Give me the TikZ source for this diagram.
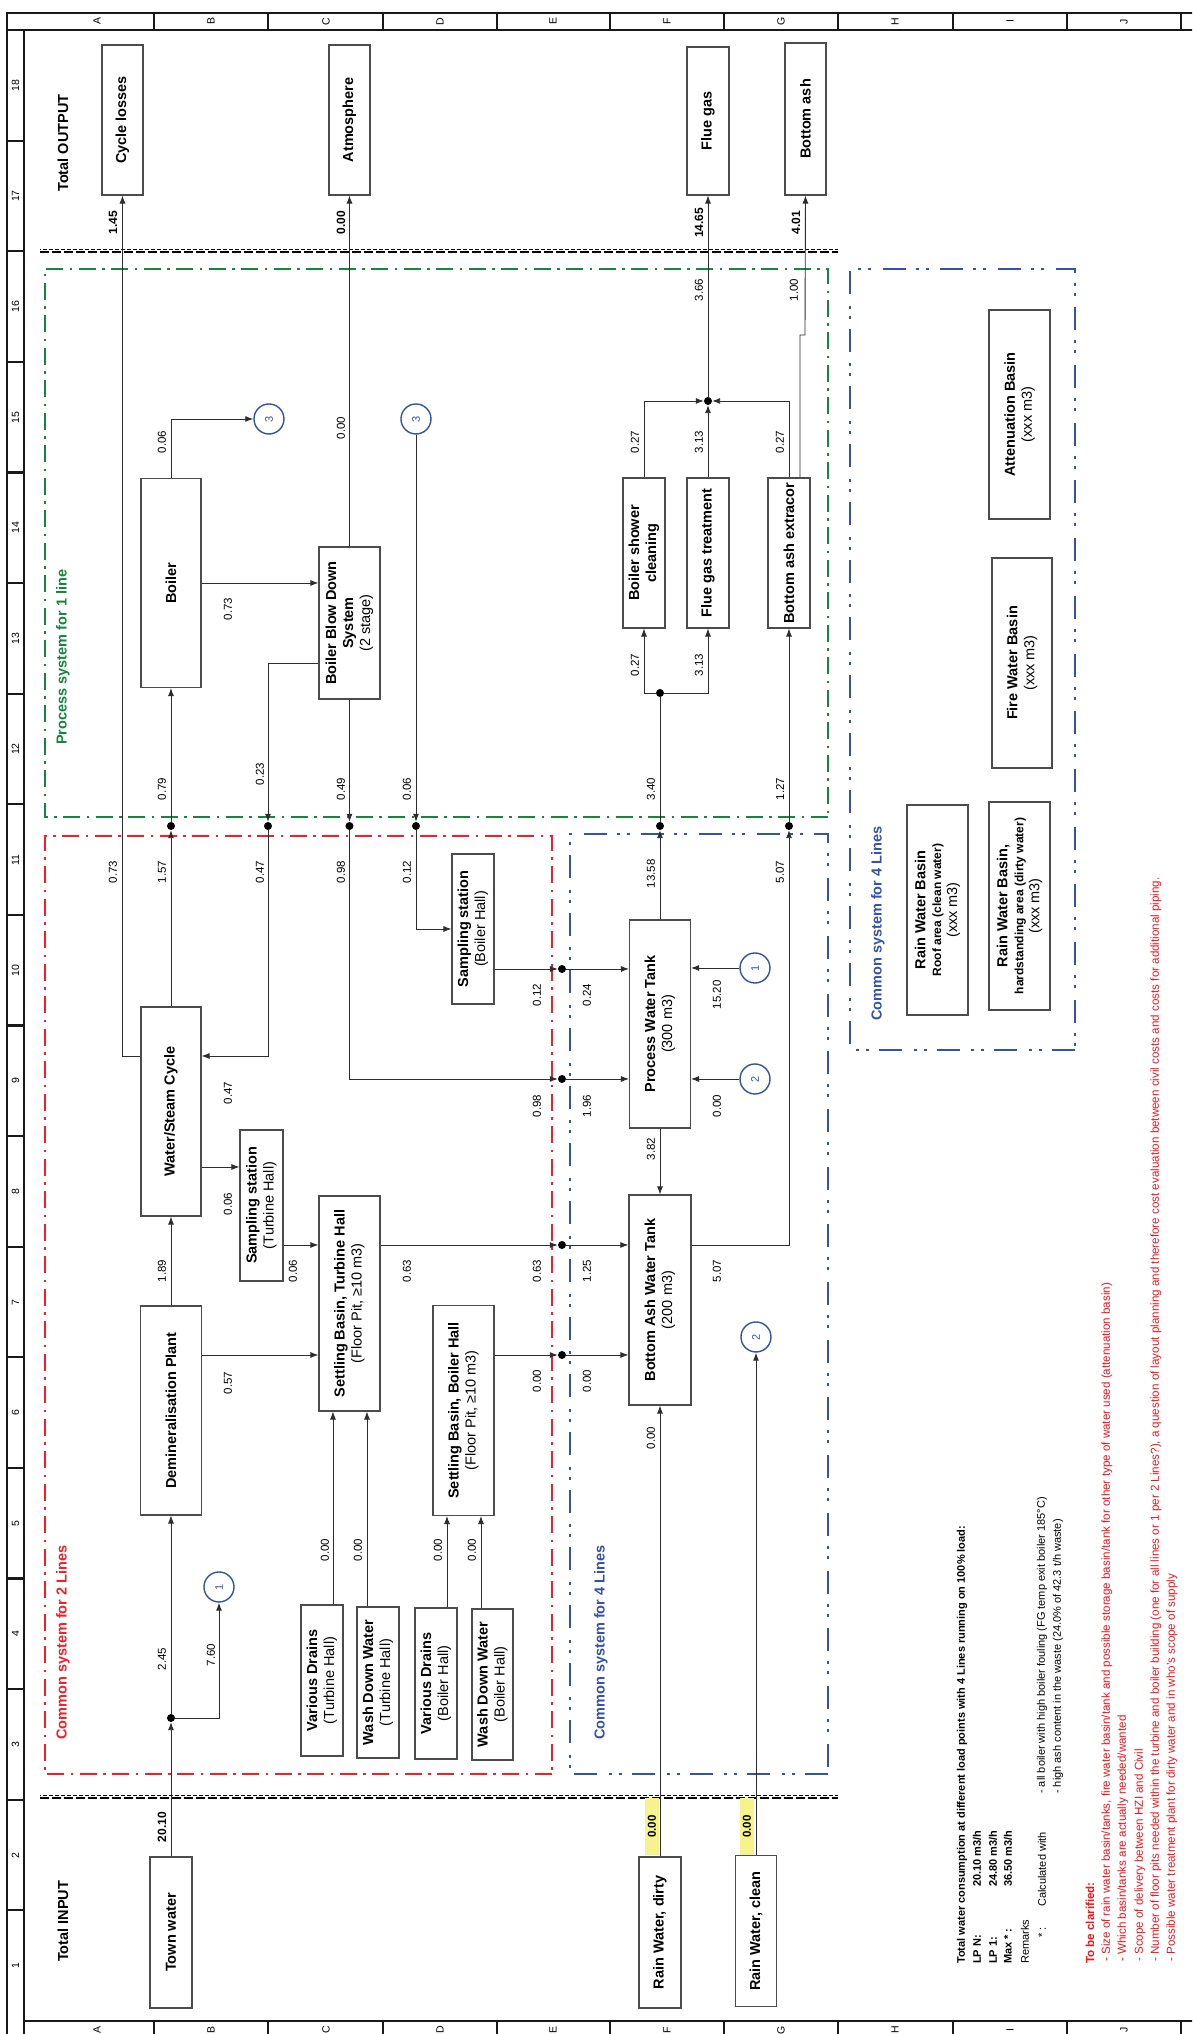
\documentclass[tikz,border=0pt]{standalone}
\usepackage{fontspec}
\setmainfont{Liberation Sans}
\usetikzlibrary{arrows.meta}
\newcommand\myfs[2]{\fontsize{#1}{#2}\selectfont}
\definecolor{cgreen}{RGB}{20,135,60}
\definecolor{cred}{RGB}{245,30,40}
\definecolor{cblue}{RGB}{52,82,168}
\definecolor{hl}{RGB}{246,242,140}
\definecolor{lin}{RGB}{45,45,45}
\definecolor{notered}{RGB}{240,20,30}
\tikzset{
 frm/.style={line width=2.2pt, draw=black!90},
 frmtxt/.style={inner sep=0pt, font=\myfs{10.5}{12}},
 box/.style={draw=lin!85, line width=1.1pt, fill=white, align=center, inner sep=0pt, font=\myfs{14.5}{17}},
 sz/.style 2 args={minimum width=#1pt, minimum height=#2pt},
 flow/.style={line width=0.9pt, draw=lin},
 arr/.style={flow, -{Latex[length=8pt,width=6pt]}},
 jdot/.style={circle, fill=black, inner sep=0pt, minimum size=8pt},
 num/.style={inner sep=0pt, font=\myfs{11.5}{13}},
 numb/.style={inner sep=0pt, font=\myfs{12}{14}\bfseries},
 circ/.style={circle, draw=cblue, line width=1.4pt, fill=white, minimum size=30pt, inner sep=0pt, text=cblue, font=\myfs{11}{13}},
 gbox/.style={draw=cgreen, line width=2.8pt, dash pattern=on 17pt off 6.5pt on 2.5pt off 6.5pt},
 rbox/.style={draw=cred, line width=2.8pt, dash pattern=on 17pt off 6.5pt on 2.5pt off 6.5pt},
 bbox/.style={draw=cblue, line width=2.8pt, dash pattern=on 23pt off 10pt on 3pt off 7pt on 3pt off 11.7pt},
 sepa/.style={line width=1.6pt, draw=black, dash pattern=on 9pt off 3pt},
 sepb/.style={line width=1.6pt, draw=black, dash pattern=on 4pt off 2pt, dash phase=3pt},
 sect/.style={anchor=west, inner sep=0pt, font=\myfs{14.5}{17}\bfseries},
 note/.style={anchor=west, inner sep=0pt, font=\myfs{11}{13}},
 rnote/.style={anchor=west, inner sep=0pt, text=notered, font=\myfs{11.6}{13}},
 hlbox/.style={fill=hl, minimum width=57pt, minimum height=14pt, inner sep=0pt, font=\myfs{11.5}{13}\bfseries},
}
\begin{document}
\begin{tikzpicture}[x=1pt,y=1pt]
\begin{scope}[rotate=90, transform shape]
\useasboundingbox (0,0) rectangle (2034,1192);
\fill[white] (0,0) rectangle (2034,1192);
\clip (0,0) rectangle (2034,1192);

% ---------- frame ----------
\draw[frm] (-10,1185) -- (2021,1185) -- (2021,-10);
\draw[frm] (-10,1168) -- (2004,1168);
\draw[frm] (2004,1185) -- (2004,-10);
\draw[frm] (13,1168) -- (13,-10);
\foreach \k in {1,...,17} \draw[frm] ({13+\k*110.6},1168) -- ({13+\k*110.6},1185);
\foreach \k in {1,...,18} \node[frmtxt] (rn\k) at ({13+(\k-0.5)*110.6},1176.5) {\k};
\foreach \y in {1038,924,809,695,582,468,354,239,125,11} {
  \draw[frm] (2004,\y) -- (2021,\y);
  \draw[frm] (-10,\y) -- (13,\y);
}
\foreach \L/\y in {A/1095,B/981,C/866,D/752,E/639,F/525,G/411,H/297,I/182,J/68} {
  \node[frmtxt] (ct\L) at (2012.5,\y) {\L};
  \node[frmtxt] (cb\L) at (4,\y) {\L};
}

% ---------- system boxes ----------
\draw[gbox] (1217,364) rectangle (1765,1147);
\draw[rbox] (260,640) rectangle (1198,1147);
\draw[bbox] (260,364) rectangle (1200,622);
\draw[bbox] (984,117) rectangle (1765,342);
\node[sect, text=cgreen] (tgreen) at (1289,1129) {Process system for 1 line};
\node[sect, text=cred] (tred) at (294,1129) {Common system for 2 Lines};
\node[sect, text=cblue] (tblue1) at (294,591) {Common system for 4 Lines};
\node[sect, text=cblue] (tblue2) at (1013,314) {Common system for 4 Lines};

% ---------- boundary lines ----------
\draw[sepa] (1782,1152) -- (1782,354);
\draw[sepb] (1784.5,1152) -- (1784.5,354);
\draw[sepa] (236,1152) -- (236,354);
\draw[sepb] (238.5,1152) -- (238.5,354);

\node[sect] (tin) at (72,1129) {Total INPUT};
\node[sect] (tout) at (1842,1129) {Total OUTPUT};

% ---------- process boxes ----------
\node[box, sz={151}{42}] (town) at (101.5,1021) {\textbf{Town water}};
\node[box, sz={151}{42}] (rwd) at (101.5,532) {\textbf{Rain Water, dirty}};
\node[box, sz={151}{41}] (rwc) at (103,436) {\textbf{Rain Water, clean}};
\node[box, sz={209}{61}] (dp) at (623.5,1021) {\textbf{Demineralisation Plant}};
\node[box, sz={209}{60}] (wsc) at (922.5,1021) {\textbf{Water/Steam Cycle}};
\node[box, sz={209}{60}] (boiler) at (1451,1021) {\textbf{Boiler}};
\node[box, sz={152}{61}] (bbd) at (1411,842.5) {\textbf{Boiler Blow Down}\\\textbf{System}\\(2 stage)};
\node[box, sz={151}{43}] (sstb) at (828.5,930.5) {\textbf{Sampling station}\\(Turbine Hall)};
\node[box, sz={215}{61}] (sbtb) at (730.5,842.5) {\textbf{Settling Basin, Turbine Hall}\\(Floor Pit, ≥10 m3)};
\node[box, sz={151}{42}] (vdt) at (353.5,870) {\textbf{Various Drains}\\(Turbine Hall)};
\node[box, sz={151}{42}] (wdt) at (351.5,814) {\textbf{Wash Down Water}\\(Turbine Hall)};
\node[box, sz={151}{42}] (vdb) at (350.5,756) {\textbf{Various Drains}\\(Boiler Hall)};
\node[box, sz={151}{41}] (wdb) at (349.5,699.5) {\textbf{Wash Down Water}\\(Boiler Hall)};
\node[box, sz={210}{61}] (sbbh) at (623.5,728.5) {\textbf{Settling Basin, Boiler Hall}\\(Floor Pit, ≥10 m3)};
\node[box, sz={150}{42}] (ssbh) at (1105,719) {\textbf{Sampling station}\\(Boiler Hall)};
\node[box, sz={208}{61}] (pwt) at (1010,532) {\textbf{Process Water Tank}\\(300 m3)};
\node[box, sz={210}{62}] (bawt) at (734,532) {\textbf{Bottom Ash Water Tank}\\(200 m3)};
\node[box, sz={150}{42}] (bsc) at (1481,548) {\textbf{Boiler shower}\\\textbf{cleaning}};
\node[box, sz={150}{42}] (fgt) at (1481,484) {\textbf{Flue gas treatment}};
\node[box, sz={150}{42}] (bae) at (1481,403) {\textbf{Bottom ash extracor}};
\node[box, sz={150}{41}] (cl) at (1914,1069.5) {\textbf{Cycle losses}};
\node[box, sz={150}{41}] (atm) at (1914,842.5) {\textbf{Atmosphere}};
\node[box, sz={148}{42}] (fg) at (1913,484) {\textbf{Flue gas}};
\node[box, sz={152}{41}] (ba) at (1915,386.5) {\textbf{Bottom ash}};
\node[box, sz={209}{61}] (att) at (1619.5,172.5) {\textbf{Attenuation Basin}\\(xxx m3)};
\node[box, sz={210}{60}] (fwb) at (1371,170) {\textbf{Fire Water Basin}\\(xxx m3)};
\node[box, sz={210}{61}, font=\myfs{14.5}{16}] (rwbr) at (1124,254.5) {\textbf{Rain Water Basin}\\{\myfs{12}{15}\bfseries Roof area (clean water)}\\(xxx m3)};
\node[box, sz={208}{61}, font=\myfs{14.5}{16}] (rwbh) at (1128,172.5) {\textbf{Rain Water Basin,}\\{\myfs{12}{15}\bfseries hardstanding area (dirty water)}\\(xxx m3)};

% ---------- circles ----------
\node[circ] (c3a) at (1615,923) {3};
\node[circ] (c3b) at (1615,776) {3};
\node[circ] (c1a) at (447,973) {1};
\node[circ] (c1b) at (1066,437) {1};
\node[circ] (c2a) at (955,437) {2};
\node[circ] (c2b) at (697,436) {2};

% ---------- junction dots ----------
\node[jdot] (d1) at (316,1021) {};
\node[jdot] (d2) at (1208,1021) {};
\node[jdot] (d3) at (1208,924) {};
\node[jdot] (d4) at (1208,842.5) {};
\node[jdot] (d5) at (1208,776) {};
\node[jdot] (d6) at (1208,532) {};
\node[jdot] (d7) at (1208,403) {};
\node[jdot] (d8) at (1341,532) {};
\node[jdot] (d9) at (1633,484) {};
\node[jdot] (d10) at (1065,630) {};
\node[jdot] (d11) at (955,630) {};
\node[jdot] (d12) at (789,630) {};
\node[jdot] (d13) at (679,630) {};

% ---------- connectors ----------
\draw[arr] (town.east) -- (d1);
\draw[arr] (d1) -- (dp.west);
\draw[arr] (d1) |- (c1a);
\draw[arr] (rwd) -- (bawt);
\draw[arr] (rwc) -- (c2b);
\draw[arr] (vdt.east |- 0,859) -- (sbtb.west |- 0,859);
\draw[arr] (wdt.east |- 0,825) -- (sbtb.west |- 0,825);
\draw[arr] (vdb.east |- 0,745) -- (sbbh.west |- 0,745);
\draw[arr] (wdb.east |- 0,711) -- (sbbh.west |- 0,711);
\draw[arr] (dp) -- (wsc);
\draw[arr] (dp.south -| 679,0) -- (sbtb.north -| 679,0);
\draw[arr] (wsc) -- (d2);
\draw[arr] (d2) -- (boiler);
\draw[arr] (wsc.north -| 978,0) |- (cl.west);
\draw[arr] (wsc.south -| 867,0) -- (sstb.north -| 867,0);
\draw[arr] (sstb.south -| 789,0) -- (sbtb.north -| 789,0);
\draw[arr] (sbtb.south -| 789,0) -- (d12);
\draw[arr] (d12) -- (bawt.north -| d12);
\draw[arr] (sbbh.south -| 679,0) -- (d13);
\draw[arr] (d13) -- (bawt.north -| d13);
\draw[arr] (boiler.south) -- (bbd.north -| boiler.south);
\draw[arr] (boiler.east) -| (c3a);
\draw[arr] (bbd) -- (atm);
\draw[arr] (bbd.north -| 1371,0) |- (d3);
\draw[arr] (d3) -| (wsc.south -| 978,0);
\draw[arr] (bbd.west) -- (d4);
\draw[arr] (d4) -| (d11);
\draw[arr] (d11) -- (pwt.north -| d11);
\draw[arr] (c3b) -- (d5);
\draw[arr] (d5) -| (ssbh);
\draw[arr] (ssbh.south -| d10) -- (d10);
\draw[arr] (d10) -- (pwt.north -| d10);
\draw[arr] (pwt) -- (d6);
\draw[flow] (d6) -- (d8);
\draw[arr] (d8) |- (bsc);
\draw[arr] (d8) |- (fgt);
\draw[arr] (pwt) -- (bawt);
\draw[arr] (c1b) -- (pwt.south -| c1b);
\draw[arr] (c2a) -- (pwt.south -| c2a);
\draw[arr] (bawt.south -| 789,0) |- (d7);
\draw[arr] (d7) -- (bae);
\draw[arr] (bsc.east) -| (d9);
\draw[arr] (fgt) -- (d9);
\draw[arr] (bae.east) -| (d9);
\draw[arr] (d9) -- (fg);
\draw[arr] (bae.east |- 0,392) -| (1699,387) -- (ba.west);

% ---------- flow labels ----------
\node[hlbox] (y1) at (207.5,540) {0.00};
\node[hlbox] (y2) at (207.5,445) {0.00};
\node[numb] (l1) at (207,1030) {20.10};
\node[num] (l2) at (375,1030) {2.45};
\node[num] (l3) at (379,981) {7.60};
\node[num] (l4) at (763,1030) {1.89};
\node[num] (l5) at (651,964) {0.57};
\node[num] (l6) at (830,964) {0.06};
\node[num] (l7) at (763,899) {0.06};
\node[num] (l8) at (941,964) {0.47};
\node[num] (l9) at (1162,1079) {0.73};
\node[num] (l10) at (1162,1030) {1.57};
\node[num] (l11) at (1162,932) {0.47};
\node[num] (l12) at (1162,851) {0.98};
\node[num] (l13) at (1162,785) {0.12};
\node[num] (l14) at (1160,541) {13.58};
\node[num] (l15) at (1162,412) {5.07};
\node[num] (l16) at (1245,1030) {0.79};
\node[num] (l17) at (1260,932) {0.23};
\node[num] (l18) at (1245,851) {0.49};
\node[num] (l19) at (1245,785) {0.06};
\node[num] (l20) at (1245,541) {3.40};
\node[num] (l21) at (1245,412) {1.27};
\node[num] (l22) at (1425,964) {0.73};
\node[num] (l23) at (1592,1030) {0.06};
\node[num] (l24) at (1606,851) {0.00};
\node[num] (l25) at (1369,557) {0.27};
\node[num] (l26) at (1369,493) {3.13};
\node[num] (l27) at (1592,557) {0.27};
\node[num] (l28) at (1592,493) {3.13};
\node[num] (l29) at (1592,412) {0.27};
\node[num] (l30) at (1744,493) {3.66};
\node[num] (l31) at (1744,398) {1.00};
\node[numb] (l32) at (1811,1079) {1.45};
\node[numb] (l33) at (1811,851) {0.00};
\node[numb] (l34) at (1811,493) {14.65};
\node[numb] (l35) at (1811,396) {4.01};
\node[num] (l36) at (1039,655) {0.12};
\node[num] (l37) at (1039,605) {0.24};
\node[num] (l38) at (1039,475) {15.20};
\node[num] (l39) at (928,655) {0.98};
\node[num] (l40) at (928,605) {1.96};
\node[num] (l41) at (928,475) {0.00};
\node[num] (l42) at (885,541) {3.82};
\node[num] (l43) at (763,785) {0.63};
\node[num] (l44) at (763,655) {0.63};
\node[num] (l45) at (763,605) {1.25};
\node[num] (l46) at (763,475) {5.07};
\node[num] (l47) at (653,655) {0.00};
\node[num] (l48) at (653,605) {0.00};
\node[num] (l49) at (596,541) {0.00};
\node[num] (l50) at (484,867) {0.00};
\node[num] (l51) at (484,834) {0.00};
\node[num] (l52) at (484,754) {0.00};
\node[num] (l53) at (484,720) {0.00};

% ---------- notes ----------
\node[note, font=\myfs{11}{13}\bfseries] (n1) at (70,230) {Total water consumption at different load points with 4 Lines running on 100\% load:};
\node[note, font=\myfs{11}{13}\bfseries] (n2a) at (70,215) {LP N:};
\node[note, font=\myfs{11}{13}\bfseries] (n2b) at (147,215) {20.10 m3/h};
\node[note, font=\myfs{11}{13}\bfseries] (n3a) at (70,199) {LP 1:};
\node[note, font=\myfs{11}{13}\bfseries] (n3b) at (147,199) {24.80 m3/h};
\node[note, font=\myfs{11}{13}\bfseries] (n4a) at (70,184) {Max * :};
\node[note, font=\myfs{11}{13}\bfseries] (n4b) at (147,184) {36.50 m3/h};
\node[note] (n5) at (70,167) {Remarks};
\node[note] (n6a) at (96,150) {* :};
\node[note] (n6b) at (127,150) {Calculated with};
\node[note] (n6c) at (240,150) {- all boiler with high boiler fouling (FG temp exit boiler 185°C)};
\node[note] (n7) at (240,134) {- high ash content in the waste (24.0\% of 42.3 t/h waste)};
\node[rnote, font=\myfs{11.6}{13}\bfseries] (r0) at (70,102) {To be clarified:};
\node[rnote] (r1) at (72,85) {- Size of rain water basin/tanks, fire water basin/tank and possible storage basin/tank for other type of water used (attenuation basin)};
\node[rnote] (r2) at (72,69) {- Which basin/tanks are actually needed/wanted};
\node[rnote] (r3) at (72,52) {- Scope of delivery between HZI and Civil};
\node[rnote] (r4) at (72,36) {- Number of floor pits needed within the turbine and boiler building (one for all lines or 1 per 2 Lines?), a question of layout planning and therefore cost evaluation between civil costs and costs for additional piping.};
\node[rnote] (r5) at (72,20) {- Possible water treatment plant for dirty water and in who's scope of supply};
\end{scope}
\end{tikzpicture}
\end{document}
